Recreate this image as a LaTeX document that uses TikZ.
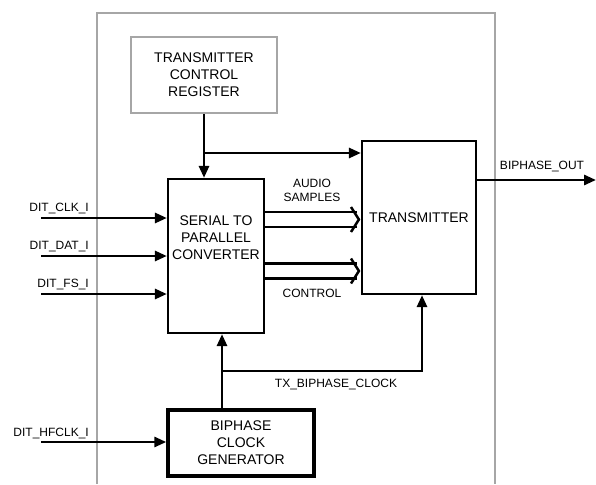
\documentclass[tikz,border=0pt]{standalone}
\usepackage{fontspec}
\setmainfont{Liberation Sans}
\usetikzlibrary{arrows.meta}

\tikzset{
  block/.style={draw, line width=2.2pt, align=center, text=black,
    font=\fontsize{14}{17}\selectfont},
  greyblock/.style={block, line width=2pt, draw=black!35},
  sig/.style={line width=2.8pt, -{Triangle[length=12pt,width=10pt]}},
  bus/.style={line width=2.5pt},
  lbl/.style={inner sep=0pt, align=center, text=black,
    font=\fontsize{12}{14}\selectfont},
}

\begin{document}
\begin{tikzpicture}[x=1pt,y=-1pt]
  \useasboundingbox (0,0) rectangle (596,484);
  \draw[line width=2pt, black!35] (97,484) -- (97,13) -- (495,13) -- (495,484);

  \node[greyblock, minimum width=146pt, minimum height=76pt] (tcr) at (204,75) {TRANSMITTER\\CONTROL\\REGISTER};
  \node[block, minimum width=96pt, minimum height=154pt,
    label={[block, draw=none, yshift=18pt]center:{SERIAL TO\\PARALLEL\\CONVERTER}}] (s2p) at (216,256) {};
  \node[block, minimum width=114pt, minimum height=153pt] (tx) at (419,217.5) {TRANSMITTER};
  \node[block, line width=3.4pt, minimum width=146pt, minimum height=66pt] (bcg) at (241,443) {BIPHASE\\CLOCK\\GENERATOR};

  % inputs
  \foreach \yy/\txt [count=\n] in {218/DIT\_CLK\_I, 256/DIT\_DAT\_I, 294/DIT\_FS\_I} {
    \coordinate (in\n) at (41,\yy);
    \draw[sig] (in\n) -- (in\n -| s2p.west);
    \node[lbl, anchor=base east] (inlbl\n) at (89,\yy-6.5) {\txt};
  }
  \coordinate (hfin) at (41,442);
  \draw[sig] (hfin) -- (hfin -| bcg.west);
  \node[lbl, anchor=base east] (hflbl) at (89,436) {DIT\_HFCLK\_I};

  % control register
  \coordinate (ctl) at (tcr.south |- 0,153);
  \draw[sig] (tcr.south) -- (tcr.south |- s2p.north);
  \draw[sig] (ctl) -- (ctl -| tx.west);

  % buses
  \foreach \yy in {219.5,271} {
    \coordinate (tip) at ([xshift=-2pt]tx.west |- 0,\yy);
    \draw[bus] (s2p.east |- 0,\yy-7.5) -- (357,\yy-7.5);
    \draw[bus] (s2p.east |- 0,\yy+7.5) -- (357,\yy+7.5);
    \draw[bus, line join=miter] (351,\yy-12.5) -- (tip) -- (351,\yy+12.5);
  }
  \node[lbl] (audlbl) at (312,190) {AUDIO\\SAMPLES};
  \node[lbl] (ctrllbl) at (312,293) {CONTROL};

  % clock
  \coordinate (clk) at (222,371);
  \draw[sig] (clk |- bcg.north) -- (clk |- s2p.south);
  \draw[sig] (clk) -| ([xshift=3pt]tx.south);
  \node[lbl, anchor=base] (clklbl) at (336,387.5) {TX\_BIPHASE\_CLOCK};

  % output
  \coordinate (bout) at (596,180);
  \draw[sig] (tx.east |- bout) -- (bout);
  \node[lbl, anchor=base] (boutlbl) at (542,169) {BIPHASE\_OUT};
\end{tikzpicture}
\end{document}
